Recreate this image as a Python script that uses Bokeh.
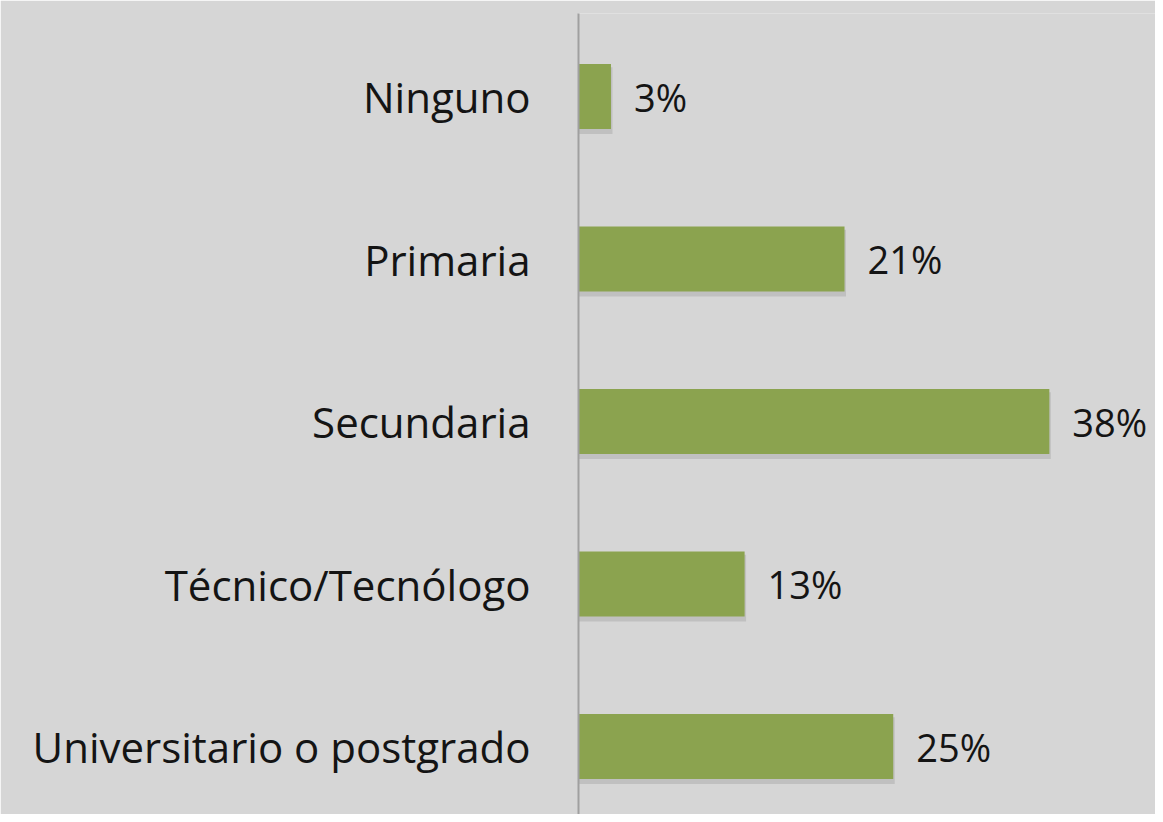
from bokeh.plotting import figure
from bokeh.models import Range1d, ColumnDataSource, FixedTicker
from bokeh.core.properties import value
from bokeh.embed import file_html
from bokeh.resources import INLINE

categories = ["Ninguno", "Primaria", "Secundaria", "Técnico/Tecnólogo", "Universitario o postgrado"]
values = [2.6, 21.3, 37.7, 13.3, 25.2]
labels = ["3%", "21%", "38%", "13%", "25%"]

BG = "#d6d6d6"
BAR = "#8ba34f"
FONT = "Open Sans"

ys = list(range(len(categories)))
src = ColumnDataSource(dict(y=ys, v=values, lab=labels,
                            ys=[y + 0.025 for y in ys],
                            vs=[v + 0.12 for v in values]))

p = figure(width=1155, height=814, output_backend="svg", toolbar_location=None,
           x_range=Range1d(0, 46.2), y_range=Range1d(4.418, -0.511),
           min_border_left=578, min_border_right=0, min_border_top=13, min_border_bottom=0,
           background_fill_color=BG, border_fill_color=BG)
p.outline_line_color = None
p.grid.visible = False
p.xaxis.visible = False

# subtle shadow
p.hbar(y="ys", left=0, right="vs", height=0.41, source=src,
       fill_color="#000000", fill_alpha=0.10, line_color=None)
p.hbar(y="y", left=0, right="v", height=0.40, source=src,
       fill_color=BAR, line_color=None)

p.text(x="v", y="y", text="lab", source=src, x_offset=23,
       text_baseline="middle", text_align="left",
       text_font=value(FONT), text_font_size="38px", text_color="#141414")

ax = p.yaxis[0]
ax.ticker = FixedTicker(ticks=ys)
ax.major_label_overrides = {i: c for i, c in enumerate(categories)}
ax.major_tick_line_color = None
ax.minor_tick_line_color = None
ax.axis_line_color = "#a0a0a0"
ax.axis_line_width = 2
ax.major_label_standoff = 42
ax.major_label_text_font = FONT
ax.major_label_text_font_size = "42px"
ax.major_label_text_color = "#141414"

open("out.html", "w").write(file_html(p, INLINE))
